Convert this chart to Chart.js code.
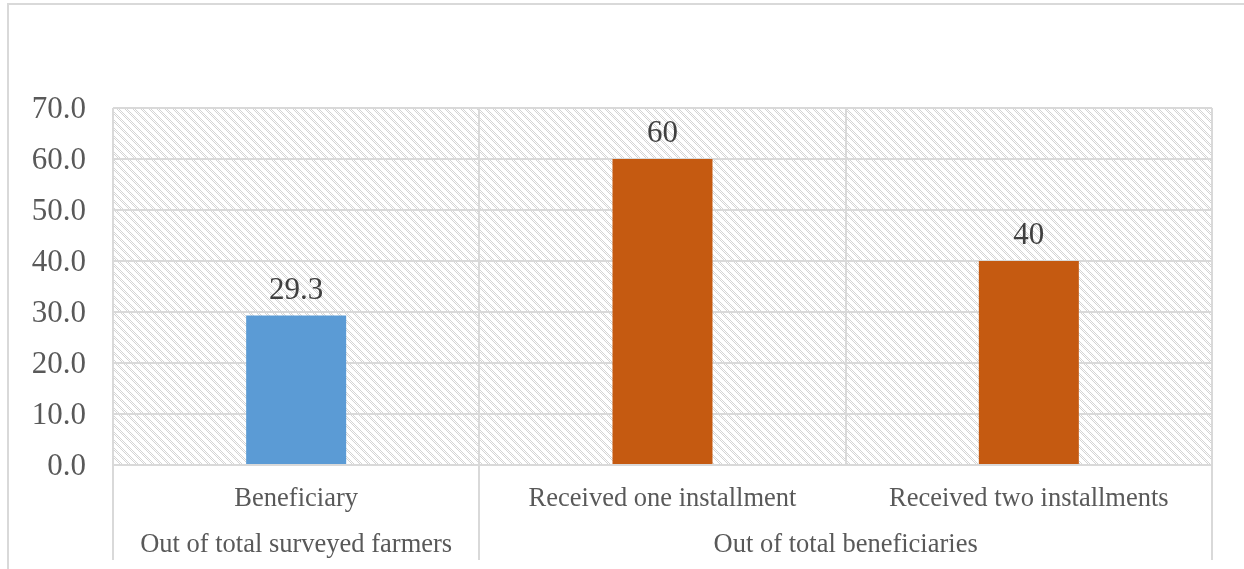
<!DOCTYPE html>
<html>
<head>
<meta charset="utf-8">
<script src="https://cdn.jsdelivr.net/npm/chart.js@4.4.1/dist/chart.umd.min.js"></script>
<style>
  html, body { margin: 0; padding: 0; background: #ffffff; }
  #wrap { position: relative; width: 1244px; height: 569px; }
</style>
</head>
<body>
<div id="wrap"><canvas id="chart" width="1244" height="569"></canvas></div>
<script>
// Share of farmers (%)
const categories = ['Beneficiary', 'Received one installment', 'Received two installments'];
const values = [29.3, 60, 40];
const barColors = ['#5B9BD5', '#C55A11', '#C55A11'];
const groupLabels = ['Out of total surveyed farmers', 'Out of total beneficiaries'];
const groupSizes = [1, 2];
const yTicks = [0, 10, 20, 30, 40, 50, 60, 70];

const SERIF = '"Liberation Serif", "Times New Roman", serif';
const GRID = '#d9d9d9';
const TEXT = '#595959';

// Light dotted diagonal hatch for the plot background
function makeHatch(ctx) {
  const t = document.createElement('canvas');
  t.width = 8; t.height = 8;
  const c = t.getContext('2d');
  c.fillStyle = '#ffffff';
  c.fillRect(0, 0, 8, 8);
  c.fillStyle = '#d4d4d4';
  for (let y = 0; y < 8; y++) {
    for (let x = 0; x < 8; x++) {
      const d = ((x - y) % 8 + 8) % 8;
      if (d < 3 && (x + y) % 2 === 0) c.fillRect(x, y, 1, 1);
    }
  }
  return ctx.createPattern(t, 'repeat');
}

const backdrop = {
  id: 'backdrop',
  beforeDraw(chart) {
    const { ctx, chartArea: a } = chart;
    ctx.save();
    ctx.fillStyle = makeHatch(ctx);
    ctx.fillRect(a.left, a.top, a.right - a.left, a.bottom - a.top);
    // outer frame
    ctx.strokeStyle = GRID;
    ctx.lineWidth = 2;
    ctx.beginPath();
    ctx.moveTo(8, 569);
    ctx.lineTo(8, 4);
    ctx.lineTo(1244, 4);
    ctx.stroke();
    ctx.restore();
  }
};

const decorations = {
  id: 'decorations',
  afterDraw(chart) {
    const { ctx, chartArea: a } = chart;
    const xs = chart.scales.x;
    const half = (xs.getPixelForValue(1) - xs.getPixelForValue(0)) / 2;
    ctx.save();
    // group boundaries extend down through the label rows
    ctx.strokeStyle = GRID;
    ctx.lineWidth = 2;
    let idx = 0;
    const bounds = [0];
    groupSizes.forEach(n => { idx += n; bounds.push(idx); });
    bounds.forEach(b => {
      const x = Math.round(xs.getPixelForValue(b) - half);
      ctx.beginPath();
      ctx.moveTo(x, a.top);
      ctx.lineTo(x, 560);
      ctx.stroke();
    });
    // group labels
    ctx.fillStyle = TEXT;
    ctx.font = '26.5px ' + SERIF;
    ctx.textAlign = 'center';
    ctx.textBaseline = 'middle';
    idx = 0;
    groupLabels.forEach((lab, i) => {
      const x0 = xs.getPixelForValue(idx) - half;
      const x1 = xs.getPixelForValue(idx + groupSizes[i] - 1) + half;
      ctx.fillText(lab, (x0 + x1) / 2, 545);
      idx += groupSizes[i];
    });
    // value labels above bars
    const meta = chart.getDatasetMeta(0);
    ctx.fillStyle = '#404040';
    ctx.font = '31px ' + SERIF;
    ctx.textBaseline = 'alphabetic';
    meta.data.forEach((bar, i) => {
      ctx.fillText(String(values[i]), bar.x, bar.y - 17);
    });
    ctx.restore();
  }
};

new Chart(document.getElementById('chart'), {
  type: 'bar',
  data: {
    labels: categories,
    datasets: [{
      data: values,
      backgroundColor: barColors,
      borderWidth: 0,
      categoryPercentage: 1,
      barPercentage: 0.273
    }]
  },
  options: {
    responsive: false,
    animation: false,
    devicePixelRatio: 1,
    layout: { padding: { left: 8, top: 108, right: 32, bottom: 0 } },
    plugins: { legend: { display: false }, tooltip: { enabled: false } },
    scales: {
      x: {
        offset: true,
        grid: { offset: true, color: GRID, lineWidth: 2, drawTicks: false },
        border: { color: GRID, width: 2 },
        ticks: {
          color: TEXT,
          font: { family: SERIF, size: 26.5 },
          padding: 18,
          maxRotation: 0,
          autoSkip: false
        },
        afterFit(s) { s.height = 104; }
      },
      y: {
        min: 0,
        max: 70,
        afterBuildTicks(s) { s.ticks = yTicks.map(v => ({ value: v })); },
        grid: { color: GRID, lineWidth: 2, drawTicks: false },
        border: { display: false },
        ticks: {
          color: TEXT,
          font: { family: SERIF, size: 31 },
          padding: 27,
          labelOffset: 2,
          callback: v => Number(v).toFixed(1)
        },
        afterFit(s) { s.width = 105; }
      }
    }
  },
  plugins: [backdrop, decorations]
});
</script>
</body>
</html>
